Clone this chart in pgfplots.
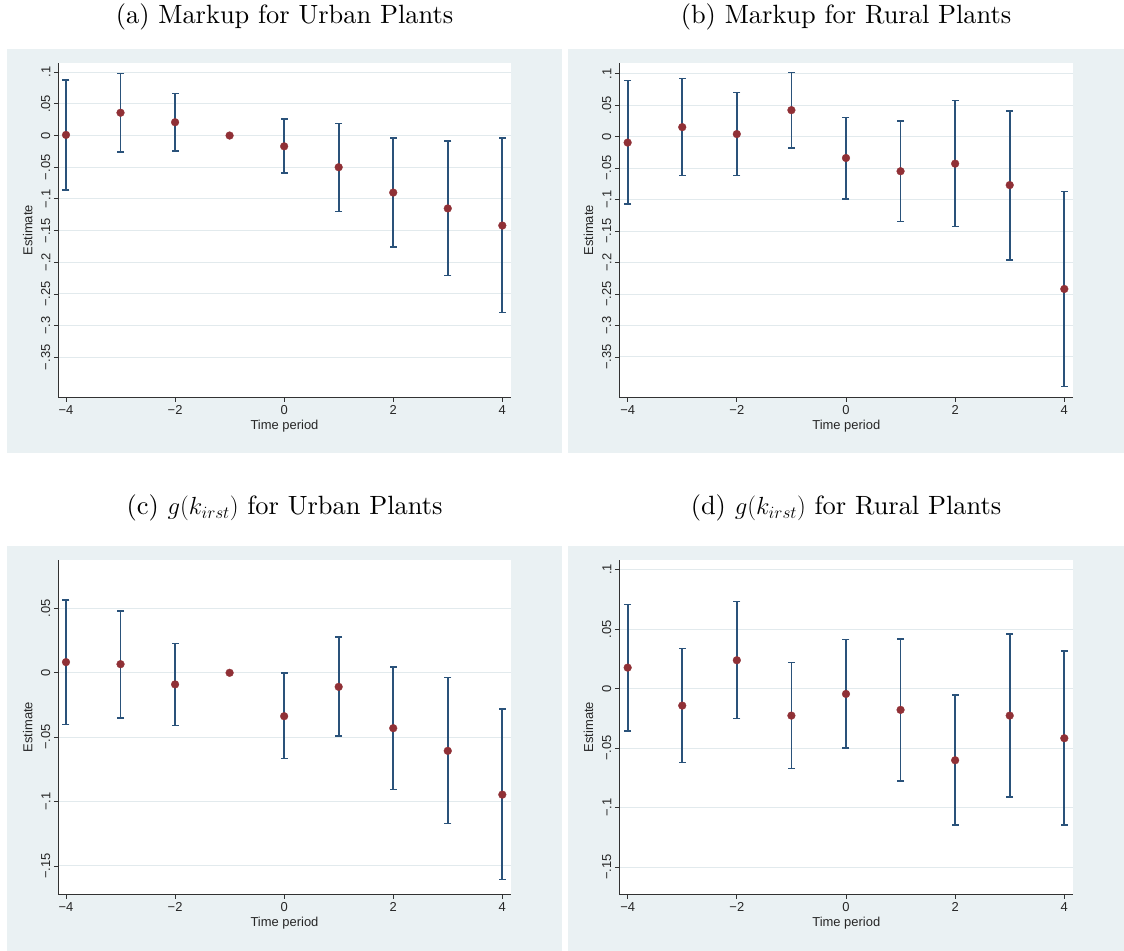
\documentclass[border=0pt]{standalone}
\usepackage{fontspec}
\usepackage{pgfplots}
\pgfplotsset{compat=1.18}
\usepackage{pgfplotstable}
\newfontfamily\sansf{Liberation Sans}
\newfontfamily\titlef{lmroman10-regular.otf}
\definecolor{bgcol}{RGB}{234,241,243}
\definecolor{gridcol}{RGB}{226,234,237}
\definecolor{barcol}{RGB}{42,82,122}
\definecolor{markcol}{RGB}{144,48,54}
\definecolor{axcol}{RGB}{50,50,50}

\pgfplotstableread{
x y lo hi
-4 0.001 -0.086 0.088
-3 0.036 -0.026 0.098
-2 0.021 -0.024 0.066
-1 0.000 0.000 0.000
0 -0.017 -0.059 0.026
1 -0.050 -0.120 0.019
2 -0.090 -0.176 -0.004
3 -0.115 -0.221 -0.009
4 -0.142 -0.279 -0.004
}\tabA
\pgfplotstableread{
x y lo hi
-4 -0.0095 -0.107 0.089
-3 0.015 -0.062 0.092
-2 0.004 -0.062 0.070
-1 0.042 -0.018 0.1015
0 -0.034 -0.099 0.030
1 -0.055 -0.135 0.025
2 -0.043 -0.143 0.057
3 -0.077 -0.196 0.041
4 -0.242 -0.397 -0.087
}\tabB
\pgfplotstableread{
x y lo hi
-4 0.0083 -0.040 0.0565
-3 0.0067 -0.035 0.048
-2 -0.009 -0.041 0.0228
-1 0.000 0.000 0.000
0 -0.0337 -0.0666 0.000
1 -0.0109 -0.0492 0.0277
2 -0.043 -0.0907 0.0047
3 -0.0606 -0.117 -0.0036
4 -0.0946 -0.1606 -0.0282
}\tabC
\pgfplotstableread{
x y lo hi
-4 0.0176 -0.0356 0.0706
-3 -0.0143 -0.0619 0.0336
-2 0.0238 -0.0252 0.0731
-1 -0.0227 -0.0672 0.0221
0 -0.0045 -0.0499 0.0412
1 -0.0179 -0.0776 0.0415
2 -0.0602 -0.1148 -0.0056
3 -0.0227 -0.091 0.0459
4 -0.0417 -0.1148 0.0317
}\tabD

\pgfplotsset{
  statastyle/.style={
    scale only axis,
    anchor=south west,
    axis x line*=bottom,
    axis y line*=left,
    axis line style={-, draw=axcol, line width=0.9bp},
    every outer x axis line/.append style={-},
    every outer y axis line/.append style={-},
    axis background/.style={fill=white},
    tick align=outside,
    major tick length=4.5bp,
    tick style={draw=axcol, line width=0.9bp},
    ymajorgrids,
    major grid style={draw=gridcol, line width=1bp},
    xtick={-4,-2,0,2,4},
    xticklabels={−4,−2,0,2,4},
    tick label style={font=\sansf\fontsize{13}{15}\selectfont, text=black!85},
    yticklabel style={rotate=90, anchor=south},
    xlabel={Time period},
    ylabel={Estimate},
    every axis x label/.style={at={(axis description cs:0.5,-0.086)}, anchor=center, font=\sansf\fontsize{13}{15}\selectfont, text=black!85},
    every axis y label/.style={at={(axis description cs:-0.0676,0.5)}, anchor=center, rotate=90, font=\sansf\fontsize{13}{15}\selectfont, text=black!85},
  },
  ebars/.style={
    forget plot, only marks, mark=none,
    error bars/.cd, y dir=both, y explicit, error mark=none,
    error bar style={draw=barcol, line width=1.7bp},
  },
  caps/.style={forget plot, only marks, mark=-, mark size=3.5bp, mark options={draw=barcol, line width=1.5bp}},
  dots/.style={only marks, mark=*, mark size=3.9bp, mark options={fill=markcol, draw=markcol, line width=0.3bp}},
}
\newcommand{\panel}[1]{%
\addplot[ebars] table[x=x, y=y, y error plus expr=\thisrow{hi}-\thisrow{y}, y error minus expr=\thisrow{y}-\thisrow{lo}] {#1};
\addplot[caps] table[x=x, y=hi] {#1};
\addplot[caps] table[x=x, y=lo] {#1};
\addplot[dots] table[x=x, y=y] {#1};
}

\begin{document}
\begin{tikzpicture}
\useasboundingbox (0,0) rectangle (1124bp,951bp);
\fill[bgcol] (7bp,498bp) rectangle (562bp,902bp);
\fill[bgcol] (568bp,498bp) rectangle (1124bp,902bp);
\fill[bgcol] (7bp,0bp) rectangle (562bp,405bp);
\fill[bgcol] (568bp,0bp) rectangle (1124bp,405bp);

\node[anchor=base, font=\titlef\fontsize{26.5}{30}\selectfont] at (284.5bp,927.7bp) {(a) Markup for Urban Plants};
\node[anchor=base, font=\titlef\fontsize{26.5}{30}\selectfont] at (846bp,927.7bp) {(b) Markup for Rural Plants};
\node[anchor=base, font=\titlef\fontsize{26.5}{30}\selectfont] at (284.5bp,436.7bp) {(c) $g(k_{irst})$ for Urban Plants};
\node[anchor=base, font=\titlef\fontsize{26.5}{30}\selectfont] at (846bp,436.7bp) {(d) $g(k_{irst})$ for Rural Plants};

% (a)
\begin{axis}[statastyle, at={(58.3bp,553.7bp)}, width=452.4bp, height=334bp,
  xmin=-4.141, xmax=4.154, ymin=-0.413, ymax=0.114,
  ytick={-0.35,-0.3,-0.25,-0.2,-0.15,-0.1,-0.05,0,0.05,0.1},
  yticklabels={−.35,−.3,−.25,−.2,−.15,−.1,−.05,0,.05,.1}]
\panel{\tabA}
\end{axis}

% (b)
\begin{axis}[statastyle, at={(619.3bp,553.7bp)}, width=454bp, height=334bp,
  xmin=-4.153, xmax=4.165, ymin=-0.414, ymax=0.1164,
  ytick={-0.35,-0.3,-0.25,-0.2,-0.15,-0.1,-0.05,0,0.05,0.1},
  yticklabels={−.35,−.3,−.25,−.2,−.15,−.1,−.05,0,.05,.1}]
\panel{\tabB}
\end{axis}

% (c)
\begin{axis}[statastyle, at={(58.3bp,56.7bp)}, width=452.4bp, height=334.3bp,
  xmin=-4.141, xmax=4.154, ymin=-0.172, ymax=0.0876,
  ytick={-0.15,-0.1,-0.05,0,0.05},
  yticklabels={−.15,−.1,−.05,0,.05}]
\panel{\tabC}
\end{axis}

% (d)
\begin{axis}[statastyle, at={(619.3bp,56.7bp)}, width=454bp, height=334.3bp,
  xmin=-4.153, xmax=4.165, ymin=-0.1728, ymax=0.108,
  ytick={-0.15,-0.1,-0.05,0,0.05,0.1},
  yticklabels={−.15,−.1,−.05,0,.05,.1}]
\panel{\tabD}
\end{axis}
\end{tikzpicture}
\end{document}
